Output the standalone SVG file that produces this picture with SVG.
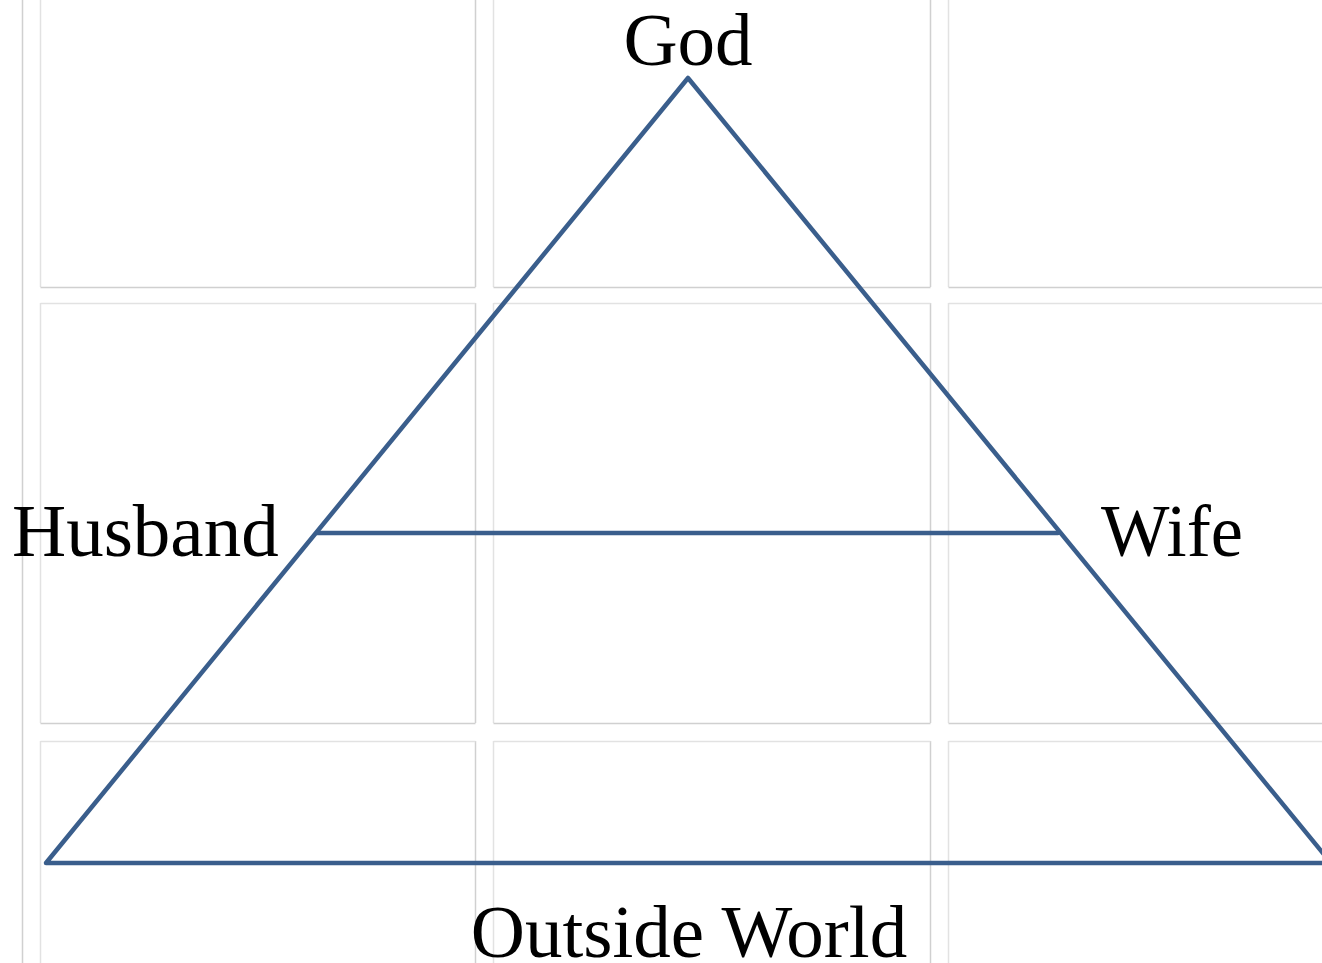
<svg xmlns="http://www.w3.org/2000/svg" width="1322" height="963" viewBox="0 0 1322 963">
  <style>
    .lt { stroke: #e2e2e2; stroke-width: 1.5; fill: none; }
    .dk { stroke: #d0d0d0; stroke-width: 1.5; fill: none; }
    .tri { stroke: #3a5e8c; stroke-width: 4.5; fill: none; stroke-linejoin: round; stroke-linecap: round; }
    .lbl { font-family: "Liberation Serif", "Times New Roman", serif; font-size: 75px; fill: #000; }
  </style>
  <rect width="1322" height="963" fill="#ffffff"/>
  <g id="grid">
    <line class="dk" x1="22.5" y1="0" x2="22.5" y2="963"/>
    <line class="lt" x1="40.5" y1="0" x2="40.5" y2="287"/>
    <line class="lt" x1="40.5" y1="303" x2="40.5" y2="723"/>
    <line class="lt" x1="40.5" y1="741" x2="40.5" y2="963"/>
    <line class="lt" x1="493.5" y1="0" x2="493.5" y2="287"/>
    <line class="lt" x1="493.5" y1="303" x2="493.5" y2="723"/>
    <line class="lt" x1="493.5" y1="741" x2="493.5" y2="963"/>
    <line class="lt" x1="948.5" y1="0" x2="948.5" y2="287"/>
    <line class="lt" x1="948.5" y1="303" x2="948.5" y2="723"/>
    <line class="lt" x1="948.5" y1="741" x2="948.5" y2="963"/>
    <line class="dk" x1="475.5" y1="0" x2="475.5" y2="287"/>
    <line class="dk" x1="475.5" y1="303" x2="475.5" y2="723"/>
    <line class="dk" x1="475.5" y1="741" x2="475.5" y2="963"/>
    <line class="dk" x1="930.5" y1="0" x2="930.5" y2="287"/>
    <line class="dk" x1="930.5" y1="303" x2="930.5" y2="723"/>
    <line class="dk" x1="930.5" y1="741" x2="930.5" y2="963"/>
    <line class="lt" x1="40.5" y1="303.5" x2="475.5" y2="303.5"/>
    <line class="lt" x1="493.5" y1="303.5" x2="930.5" y2="303.5"/>
    <line class="lt" x1="948.5" y1="303.5" x2="1322" y2="303.5"/>
    <line class="lt" x1="40.5" y1="741.5" x2="475.5" y2="741.5"/>
    <line class="lt" x1="493.5" y1="741.5" x2="930.5" y2="741.5"/>
    <line class="lt" x1="948.5" y1="741.5" x2="1322" y2="741.5"/>
    <line class="dk" x1="40.5" y1="287.5" x2="475.5" y2="287.5"/>
    <line class="dk" x1="493.5" y1="287.5" x2="930.5" y2="287.5"/>
    <line class="dk" x1="948.5" y1="287.5" x2="1322" y2="287.5"/>
    <line class="dk" x1="40.5" y1="723.5" x2="475.5" y2="723.5"/>
    <line class="dk" x1="493.5" y1="723.5" x2="930.5" y2="723.5"/>
    <line class="dk" x1="948.5" y1="723.5" x2="1322" y2="723.5"/>
  </g>
  <g id="connectors">
    <path class="tri" d="M 1331 863 L 46 863 L 688 78 L 1331 863"/>
    <line class="tri" x1="317" y1="533" x2="1058" y2="533"/>
  </g>
  <g id="node-god"><text class="lbl" x="688" y="65" text-anchor="middle">God</text></g>
  <g id="node-husband"><text class="lbl" x="12" y="556">Husband</text></g>
  <g id="node-wife"><text class="lbl" x="1101" y="556" textLength="142" lengthAdjust="spacingAndGlyphs">Wife</text></g>
  <g id="node-outside"><text class="lbl" x="689" y="957" text-anchor="middle">Outside World</text></g>
</svg>
